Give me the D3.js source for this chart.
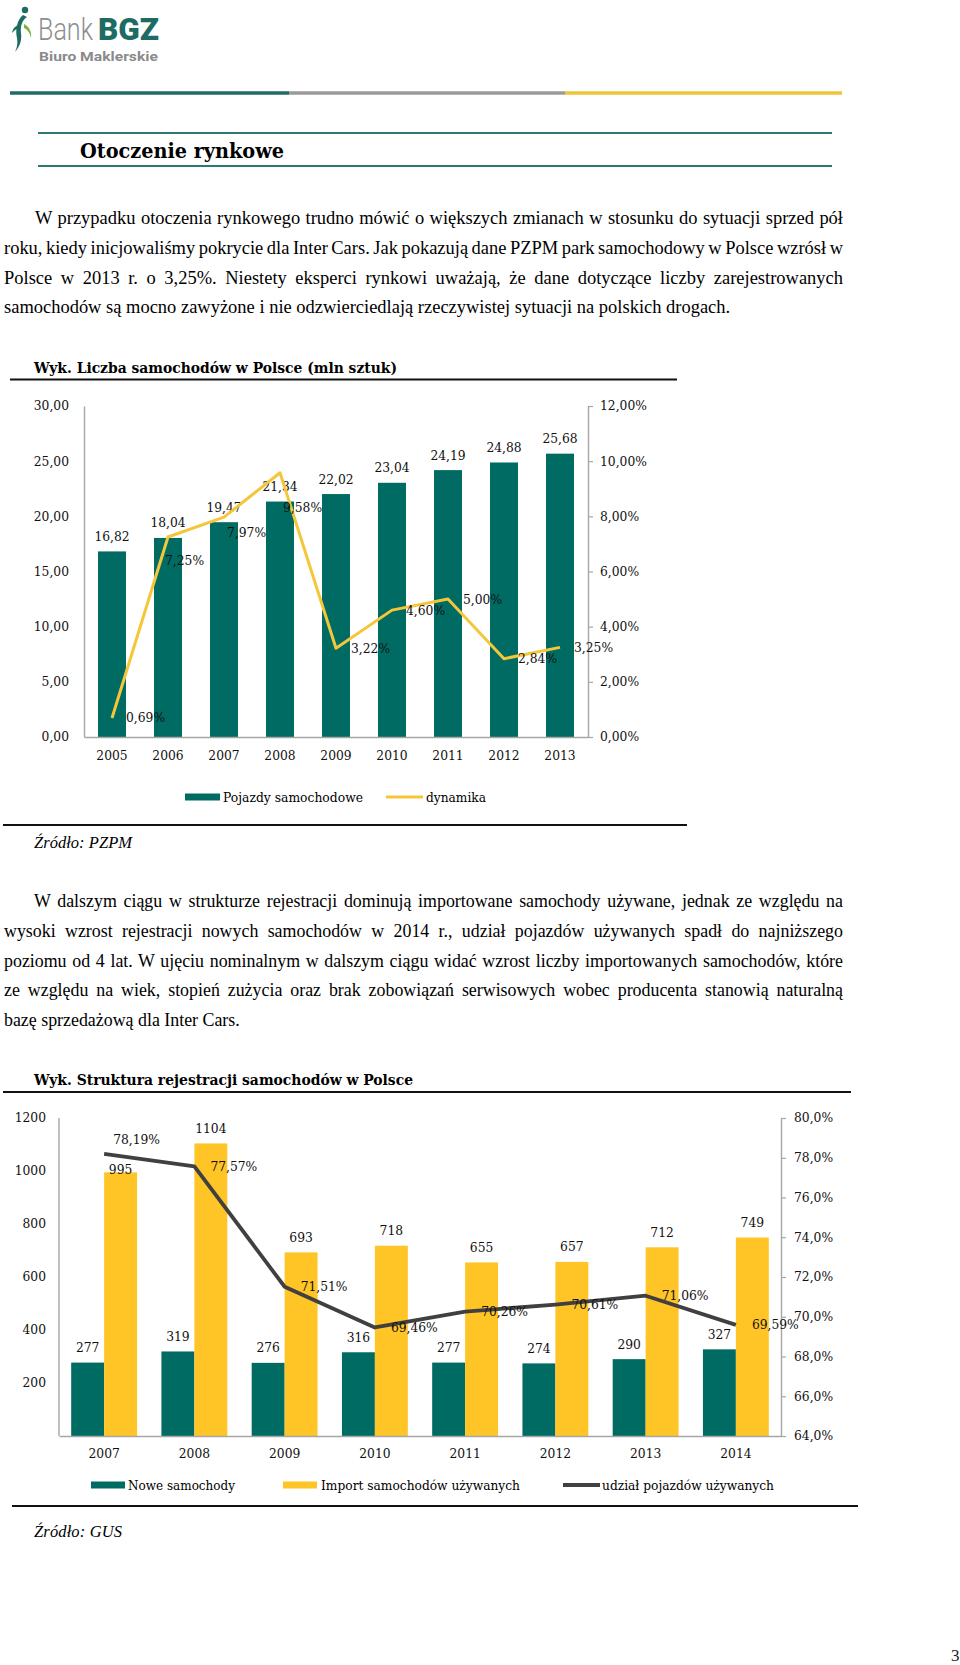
<!DOCTYPE html>
<html><head><meta charset="utf-8">
<script src="https://cdn.jsdelivr.net/npm/d3@7"></script>
<style>body{margin:0;background:#fff}svg{display:block}</style>
</head><body>
<script>
// ---------- DATA ----------
const years1 = ["2005","2006","2007","2008","2009","2010","2011","2012","2013"];
const cars1 = [16.82,18.04,19.47,21.34,22.02,23.04,24.19,24.88,25.68];
const dynamics1 = [0.0069,0.0725,0.0797,0.0958,0.0322,0.0460,0.0500,0.0284,0.0325];
const leftTicks1 = [0,5,10,15,20,25,30];
const rightTicks1 = [0,0.02,0.04,0.06,0.08,0.10,0.12];
const seriesNames1 = ["Pojazdy samochodowe","dynamika"];

const years2 = ["2007","2008","2009","2010","2011","2012","2013","2014"];
const newCars2 = [277,319,276,316,277,274,290,327];
const usedImport2 = [995,1104,693,718,655,657,712,749];
const usedShare2 = [0.7819,0.7757,0.7151,0.6946,0.7026,0.7061,0.7106,0.6959];
const leftTicks2 = [200,400,600,800,1000,1200];
const rightTicks2 = [0.64,0.66,0.68,0.70,0.72,0.74,0.76,0.78,0.80];
const seriesNames2 = ["Nowe samochody","Import samochodów używanych","udział pojazdów używanych"];

const para1 = [
 "W przypadku otoczenia rynkowego trudno mówić o większych zmianach w stosunku do sytuacji sprzed pół",
 "roku, kiedy inicjowaliśmy pokrycie dla Inter Cars. Jak pokazują dane PZPM park samochodowy w Polsce wzrósł w",
 "Polsce w 2013 r. o 3,25%. Niestety eksperci rynkowi uważają, że dane dotyczące liczby zarejestrowanych",
 "samochodów są mocno zawyżone i nie odzwierciedlają rzeczywistej sytuacji na polskich drogach."
];
const para2 = [
 "W dalszym ciągu w strukturze rejestracji dominują importowane samochody używane, jednak ze względu na",
 "wysoki wzrost rejestracji nowych samochodów w 2014 r., udział pojazdów używanych spadł do najniższego",
 "poziomu od 4 lat. W ujęciu nominalnym w dalszym ciągu widać wzrost liczby importowanych samochodów, które",
 "ze względu na wiek, stopień zużycia oraz brak zobowiązań serwisowych wobec producenta stanowią naturalną",
 "bazę sprzedażową dla Inter Cars."
];

// ---------- STYLE ----------
const TEAL = "#006b62", YELLOW = "#ffc425", LINEY = "#f4c63a", DARK = "#404040", AXIS = "#a6a6a6";
const CF = "'DejaVu Serif', serif";
const BF = "'Liberation Serif', 'Times New Roman', serif";
const pl = d3.formatLocale({decimal: ",", thousands: " ", grouping: [3], currency: ["", " zł"]});
const f2 = pl.format(".2f"), p2 = pl.format(".2%"), p1 = pl.format(".1%"), fd = pl.format("d");

const svg = d3.select("body").append("svg").attr("width", 960).attr("height", 1665);

// ---------- HEADER / LOGO ----------
const logo = svg.append("g");
logo.append("circle").attr("cx", 25).attr("cy", 10).attr("r", 3.2).attr("fill", "#1d6b63");
logo.append("path").attr("d", "M23,15 C17,20 15,30 17,38 C18,43 17,48 15,52 C20,46 22,40 21,33 C20,27 22,20 27,17 Z").attr("fill", "#1d6b63");
logo.append("path").attr("d", "M21,25 C17,24 13,28 12,33 C15,29 18,28 21,29 Z").attr("fill", "#1d6b63");
logo.append("path").attr("d", "M24,24 C29,26 32,32 31,38 C30,33 28,30 24,28 Z").attr("fill", "#7cb342");
// condensed logo words: scale each word horizontally to its width
function logoWord(t, x, y, w, fs, weight, fill) {
  const g = logo.append("g");
  const tx = g.append("text").attr("font-family", "Roboto, sans-serif").attr("font-weight", weight)
    .attr("font-size", fs).attr("fill", fill).text(t);
  const sx = w / tx.node().getComputedTextLength();
  g.attr("transform", `translate(${x},${y}) scale(${sx},1)`);
}
logoWord("Bank", 38, 40, 55, 32, 300, "#8e8e8e");
logoWord("BGZ", 98, 40, 61, 32, 900, "#1d6b63");
logoWord("Biuro Maklerskie", 39, 60.5, 119, 12.5, 700, "#8a8a8a");

const hl = [[10,289,"#1f6b67"],[289,565,"#9b9b9b"],[565,842,"#f0c43a"]];
hl.forEach(h => svg.append("line").attr("x1", h[0]).attr("x2", h[1]).attr("y1", 93).attr("y2", 93)
  .attr("stroke", h[2]).attr("stroke-width", 3.5));

[133,166].forEach(y => svg.append("line").attr("x1", 38).attr("x2", 832).attr("y1", y).attr("y2", y)
  .attr("stroke", "#2a7a73").attr("stroke-width", 2.2));
svg.append("text").attr("x", 80).attr("y", 158).attr("font-family", CF).attr("font-weight", "bold")
  .attr("font-size", 20).attr("textLength", 204).attr("lengthAdjust", "spacingAndGlyphs").text("Otoczenie rynkowe");

// justified paragraph: font size fitted to the last line, other lines justified with word spacing
function para(lines, y0, firstX, lastW) {
  const probe = svg.append("text").attr("font-family", BF).attr("font-size", 16).text(lines[lines.length - 1]);
  const fs = 16 * lastW / probe.node().getComputedTextLength();
  probe.remove();
  lines.forEach((t, i) => {
    const x = i === 0 ? firstX : 4;
    const tx = svg.append("text").attr("x", x).attr("y", y0 + i * 29.8).attr("font-family", BF)
      .attr("font-size", fs).attr("fill", "#000").text(t);
    if (i < lines.length - 1) {
      const nat = tx.node().getComputedTextLength();
      const spaces = (t.match(/ /g) || []).length;
      tx.attr("word-spacing", ((843 - x) - nat) / spaces);
    }
  });
}
para(para1, 224, 35, 727);
para(para2, 907, 34, 236);

function title(t, y, w) {
  svg.append("text").attr("x", 34).attr("y", y).attr("font-family", CF).attr("font-weight", "bold")
    .attr("font-size", 15).attr("textLength", w).attr("lengthAdjust", "spacingAndGlyphs").text(t);
}
function hline(x1, x2, y) {
  svg.append("line").attr("x1", x1).attr("x2", x2).attr("y1", y).attr("y2", y).attr("stroke", "#111").attr("stroke-width", 2);
}
title("Wyk. Liczba samochodów w Polsce (mln sztuk)", 373, 363);
hline(10, 677, 379.5);
title("Wyk. Struktura rejestracji samochodów w Polsce", 1085, 379);
hline(3, 851, 1092);

function source(t, y, w) {
  svg.append("text").attr("x", 34).attr("y", y).attr("font-family", BF).attr("font-style", "italic")
    .attr("font-size", 16.5).attr("textLength", w).attr("lengthAdjust", "spacing").text(t);
}

function styleAxis(g) {
  g.selectAll("path.domain").attr("stroke", AXIS).attr("stroke-width", 1.4);
  g.selectAll(".tick line").attr("stroke", AXIS).attr("stroke-width", 1.2);
  g.selectAll("text").attr("font-family", CF).attr("font-size", 12.3).attr("fill", "#111");
  g.attr("font-family", null);
}

// ---------- CHART 1 ----------
{
  const x = d3.scaleBand().domain(years1).range([84, 588]).paddingInner(0.5).paddingOuter(0.25);
  const y = d3.scaleLinear().domain([0, 30]).range([737, 406]);
  const y2 = d3.scaleLinear().domain([0, 0.12]).range([737, 406]);
  const g = svg.append("g");

  g.selectAll("rect.bar").data(cars1).join("rect").attr("class", "bar")
    .attr("x", (d, i) => x(years1[i])).attr("width", x.bandwidth())
    .attr("y", d => y(d)).attr("height", d => y(0) - y(d)).attr("fill", TEAL);

  const ax = g.append("g").attr("transform", "translate(84,0)")
    .call(d3.axisLeft(y).tickValues(leftTicks1).tickSize(0).tickSizeOuter(0).tickPadding(15).tickFormat(f2));
  styleAxis(ax);
  const ar = g.append("g").attr("transform", "translate(588,0)")
    .call(d3.axisRight(y2).tickValues(rightTicks1).tickSize(5).tickSizeOuter(0).tickPadding(7).tickFormat(p2));
  styleAxis(ar);
  const ab = g.append("g").attr("transform", "translate(0,737)")
    .call(d3.axisBottom(x).tickSize(0).tickSizeOuter(0).tickPadding(14));
  styleAxis(ab);

  g.selectAll("text.bl").data(cars1).join("text").attr("class", "bl")
    .attr("x", (d, i) => x(years1[i]) + x.bandwidth() / 2).attr("y", d => y(d) - 10.5)
    .attr("text-anchor", "middle").attr("font-family", CF).attr("font-size", 12.3).attr("fill", "#111").text(f2);

  const cx = (i) => x(years1[i]) + x.bandwidth() / 2;
  const line = d3.line().x((d, i) => cx(i)).y(d => y2(d));
  g.append("path").datum(dynamics1).attr("d", line).attr("fill", "none").attr("stroke", LINEY)
    .attr("stroke-width", 3).attr("stroke-linejoin", "round");

  const ldx = [14, -3, 3, 3, 15, 14, 15, 14, 14];
  const ldy = [0, 23, 15, 35, 0, 0, 0, 0, 0];
  g.selectAll("text.ll").data(dynamics1).join("text").attr("class", "ll")
    .attr("x", (d, i) => cx(i) + ldx[i]).attr("y", (d, i) => y2(d) + ldy[i] + 4.5)
    .attr("font-family", CF).attr("font-size", 12.3).attr("fill", "#111").text(p2);

  // legend
  const lg = g.append("g");
  lg.append("rect").attr("x", 185).attr("y", 793.5).attr("width", 35).attr("height", 7).attr("fill", TEAL);
  lg.append("text").attr("x", 223).attr("y", 801.5).attr("font-family", CF).attr("font-size", 12.3)
    .attr("textLength", 140).attr("lengthAdjust", "spacingAndGlyphs").text(seriesNames1[0]);
  lg.append("line").attr("x1", 386).attr("x2", 423).attr("y1", 797).attr("y2", 797).attr("stroke", LINEY).attr("stroke-width", 3);
  lg.append("text").attr("x", 426).attr("y", 801.5).attr("font-family", CF).attr("font-size", 12.3)
    .attr("textLength", 60).attr("lengthAdjust", "spacingAndGlyphs").text(seriesNames1[1]);
}
hline(3, 687, 825);
source("Źródło:  PZPM", 848, 98);

// ---------- CHART 2 ----------
{
  const x = d3.scaleBand().domain(years2).range([59, 781]).paddingInner(0.27).paddingOuter(0.135);
  const xs = d3.scaleBand().domain(["new", "used"]).range([0, x.bandwidth()]);
  const y = d3.scaleLinear().domain([0, 1200]).range([1436, 1118]);
  const y2 = d3.scaleLinear().domain([0.64, 0.80]).range([1436, 1118]);
  const g = svg.append("g");

  g.selectAll("rect.nb").data(newCars2).join("rect").attr("class", "nb")
    .attr("x", (d, i) => x(years2[i]) + xs("new")).attr("width", xs.bandwidth())
    .attr("y", d => y(d)).attr("height", d => y(0) - y(d)).attr("fill", TEAL);
  g.selectAll("rect.ub").data(usedImport2).join("rect").attr("class", "ub")
    .attr("x", (d, i) => x(years2[i]) + xs("used")).attr("width", xs.bandwidth())
    .attr("y", d => y(d)).attr("height", d => y(0) - y(d)).attr("fill", YELLOW);

  const ax = g.append("g").attr("transform", "translate(59,0)")
    .call(d3.axisLeft(y).tickValues(leftTicks2).tickSize(0).tickSizeOuter(0).tickPadding(13).tickFormat(fd));
  styleAxis(ax);
  const ar = g.append("g").attr("transform", "translate(781,0)")
    .call(d3.axisRight(y2).tickValues(rightTicks2).tickSize(5).tickSizeOuter(0).tickPadding(8).tickFormat(p1));
  styleAxis(ar);
  const ab = g.append("g").attr("transform", "translate(0,1436)")
    .call(d3.axisBottom(x).tickSize(0).tickSizeOuter(0).tickPadding(13));
  styleAxis(ab);
  ax.select("path.domain").attr("d", `M0,${y(1200)}V${y(0)}`);

  g.selectAll("text.nl").data(newCars2).join("text").attr("class", "nl")
    .attr("x", (d, i) => x(years2[i]) + xs("new") + xs.bandwidth() / 2).attr("y", d => y(d) - 10.5)
    .attr("text-anchor", "middle").attr("font-family", CF).attr("font-size", 12.3).attr("fill", "#111").text(fd);
  const ugap = [2.5, 15, 15, 15, 15, 15, 15, 15];
  g.selectAll("text.ul").data(usedImport2).join("text").attr("class", "ul")
    .attr("x", (d, i) => x(years2[i]) + xs("used") + xs.bandwidth() / 2).attr("y", (d, i) => y(d) - ugap[i] + 4.5)
    .attr("text-anchor", "middle").attr("font-family", CF).attr("font-size", 12.3).attr("fill", "#111").text(fd);

  const cx = (i) => x(years2[i]) + x.bandwidth() / 2;
  const line = d3.line().x((d, i) => cx(i)).y(d => y2(d));
  g.append("path").datum(usedShare2).attr("d", line).attr("fill", "none").attr("stroke", DARK)
    .attr("stroke-width", 3.8).attr("stroke-linejoin", "round");

  const ldx = [9, 16, 16, 16, 16, 16, 16, 16];
  const ldy = [-14, 0, 0, 0, 0, 0, 0, 0];
  g.selectAll("text.ll").data(usedShare2).join("text").attr("class", "ll")
    .attr("x", (d, i) => cx(i) + ldx[i]).attr("y", (d, i) => y2(d) + ldy[i] + 4.5)
    .attr("font-family", CF).attr("font-size", 12.3).attr("fill", "#111").text(p2);

  const lg = g.append("g");
  lg.append("rect").attr("x", 91).attr("y", 1481.5).attr("width", 34).attr("height", 7).attr("fill", TEAL);
  lg.append("text").attr("x", 128).attr("y", 1489.5).attr("font-family", CF).attr("font-size", 12.3)
    .attr("textLength", 107).attr("lengthAdjust", "spacingAndGlyphs").text(seriesNames2[0]);
  lg.append("rect").attr("x", 283).attr("y", 1481.5).attr("width", 34).attr("height", 7).attr("fill", YELLOW);
  lg.append("text").attr("x", 321).attr("y", 1489.5).attr("font-family", CF).attr("font-size", 12.3)
    .attr("textLength", 199).attr("lengthAdjust", "spacingAndGlyphs").text(seriesNames2[1]);
  lg.append("line").attr("x1", 563).attr("x2", 600).attr("y1", 1485).attr("y2", 1485).attr("stroke", DARK).attr("stroke-width", 3.8);
  lg.append("text").attr("x", 602).attr("y", 1489.5).attr("font-family", CF).attr("font-size", 12.3)
    .attr("textLength", 172).attr("lengthAdjust", "spacingAndGlyphs").text(seriesNames2[2]);
}
hline(12, 858, 1506);
source("Źródło:  GUS", 1537, 88);

svg.append("text").attr("x", 951).attr("y", 1661).attr("font-family", BF).attr("font-size", 17).attr("fill", "#222").text("3");
</script>
</body></html>
